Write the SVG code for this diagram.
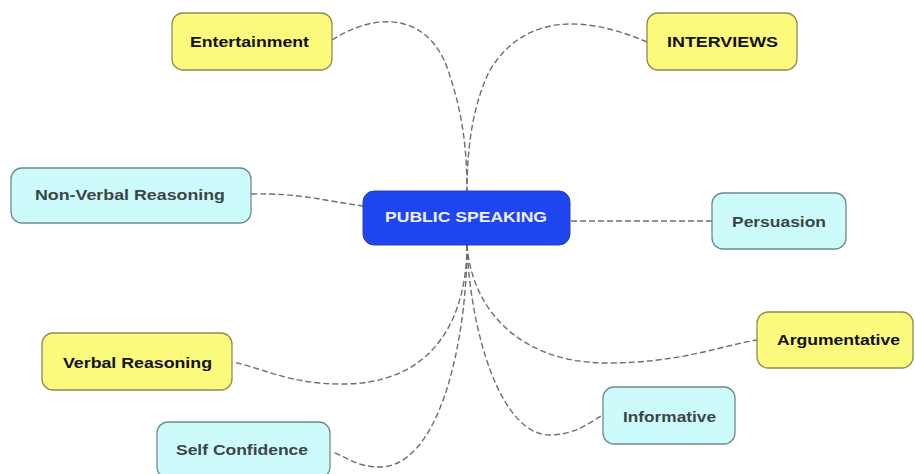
<svg xmlns="http://www.w3.org/2000/svg" width="915" height="474" viewBox="0 0 915 474">
<style>
.y rect{fill:#fbfa7c;stroke:#8f8c55;stroke-width:1.3}
.c rect{fill:#cdfbfb;stroke:#6f8a8a;stroke-width:1.3}
.m rect{fill:#1f45f0;stroke:#2a3fb0;stroke-width:1}
text{font-family:"Liberation Sans",Arial,sans-serif;font-size:14px;font-weight:bold;text-anchor:middle;dominant-baseline:central}
.y text{fill:#111}
.c text{fill:#3a4646}
.m text{fill:#eef0ff}
#connectors path{fill:none;stroke:#6e6e6e;stroke-width:1.4;stroke-dasharray:6 3}
</style>
<rect width="915" height="474" fill="#ffffff"/>
<g id="connectors">
<path d="M332,40 C375,12 428,12 448,70 C460,105 467,140 467,191"/>
<path d="M647,42 C600,22 530,5 490,70 C475,100 467,140 467,191"/>
<path d="M251,194 C300,193 320,200 363,206"/>
<path d="M571,221 L712,221"/>
<path d="M467,245 C467,310 440,385 340,384 C290,384 262,368 233,362"/>
<path d="M467,245 C467,340 440,470 377,467 C355,466 345,456 332,452"/>
<path d="M467,245 C472,310 520,363 607,363 C680,363 720,346 757,340"/>
<path d="M467,245 C470,330 500,435 550,435 C575,435 590,422 603,415"/>
</g>
<g id="entertainment" class="y"><rect x="172" y="13" width="160" height="57" rx="11"/><text x="249.5" y="42" textLength="119" lengthAdjust="spacingAndGlyphs">Entertainment</text></g>
<g id="interviews" class="y"><rect x="647" y="13" width="150" height="57" rx="11"/><text x="722.5" y="42" textLength="111" lengthAdjust="spacingAndGlyphs">INTERVIEWS</text></g>
<g id="nonverbal" class="c"><rect x="11" y="168" width="240" height="55" rx="11"/><text x="130" y="195" textLength="190" lengthAdjust="spacingAndGlyphs">Non-Verbal Reasoning</text></g>
<g id="public-speaking" class="m"><rect x="363" y="191" width="207" height="54" rx="11"/><text x="466" y="217" textLength="162" lengthAdjust="spacingAndGlyphs">PUBLIC SPEAKING</text></g>
<g id="persuasion" class="c"><rect x="712" y="193" width="134" height="56" rx="11"/><text x="779" y="222" textLength="94" lengthAdjust="spacingAndGlyphs">Persuasion</text></g>
<g id="argumentative" class="y"><rect x="757" y="312" width="156" height="56" rx="11"/><text x="838.5" y="340" textLength="123" lengthAdjust="spacingAndGlyphs">Argumentative</text></g>
<g id="verbal" class="y"><rect x="42" y="333" width="190" height="57" rx="11"/><text x="137.5" y="363" textLength="149" lengthAdjust="spacingAndGlyphs">Verbal Reasoning</text></g>
<g id="informative" class="c"><rect x="603" y="387" width="132" height="57" rx="11"/><text x="669.5" y="417" textLength="93" lengthAdjust="spacingAndGlyphs">Informative</text></g>
<g id="self-confidence" class="c"><rect x="157" y="422" width="173" height="56" rx="11"/><text x="242" y="450" textLength="132" lengthAdjust="spacingAndGlyphs">Self Confidence</text></g>
</svg>
